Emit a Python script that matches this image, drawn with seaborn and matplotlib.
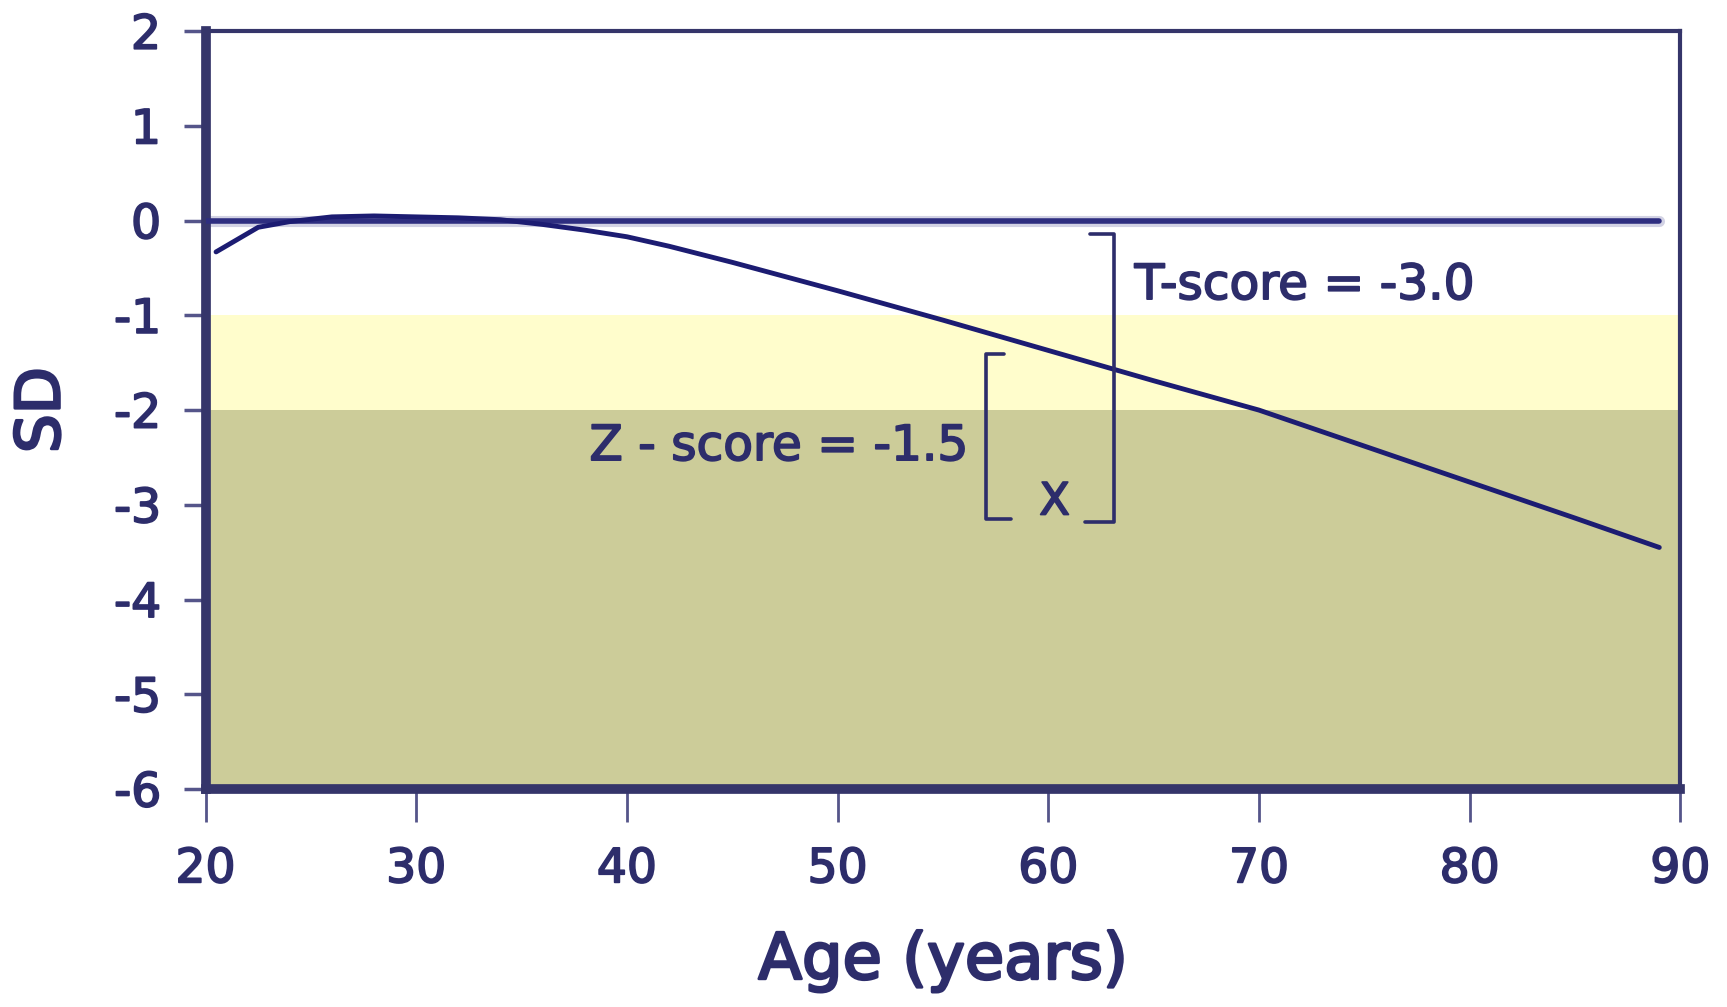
import matplotlib
matplotlib.use("Agg")
import matplotlib.pyplot as plt
import matplotlib.patheffects as pe
import seaborn as sns
import pandas as pd

# bone density curve, SD relative to young adult mean
age = [20.5, 21.5, 22.5, 24, 26, 28, 30, 32, 34, 36, 38, 40, 42, 45, 50, 55, 60, 65, 70, 75, 80, 85, 89]
sd = [-0.33, -0.2, -0.07, -0.01, 0.04, 0.05, 0.04, 0.03, 0.01, -0.04, -0.1, -0.17, -0.27,
      -0.44, -0.74, -1.05, -1.37, -1.69, -2.0, -2.38, -2.76, -3.14, -3.45]

ref_age = [20, 89]
ref_sd = [0, 0]

# bands
osteopenia = (-2, -1)
osteoporosis = (-6, -2)

# bracket annotations
t_x = [62.0, 63.1, 63.1, 61.75]
t_y = [-0.14, -0.14, -3.18, -3.18]
z_x = [57.9, 57.05, 57.05, 58.25]
z_y = [-1.41, -1.41, -3.15, -3.15]

xticks = [20, 30, 40, 50, 60, 70, 80, 90]
yticks = [2, 1, 0, -1, -2, -3, -4, -5, -6]

NAVY = "#2d2d6b"
LINE = "#1c1c72"
heavy = [pe.withStroke(linewidth=1.3, foreground=NAVY)]

sns.set_style("white")
plt.rcParams["font.family"] = ["DejaVu Sans"]
plt.rcParams["axes.unicode_minus"] = False

fig = plt.figure(figsize=(17.27, 10.07), dpi=100)
ax = fig.add_axes([0.119, 0.2165, 0.854, 0.7525])

ax.axhspan(*osteopenia, color="#fffdcc", lw=0, zorder=0)
ax.axhspan(*osteoporosis, color="#cccc99", lw=0, zorder=0)

df = pd.DataFrame({"age": age, "sd": sd})
ref = pd.DataFrame({"age": ref_age, "sd": ref_sd})
sns.lineplot(data=ref, x="age", y="sd", color="#d2d2e4", lw=8, ax=ax, zorder=2)
sns.lineplot(data=ref, x="age", y="sd", color="#2e2e80", lw=4, ax=ax, zorder=3)
sns.lineplot(data=df, x="age", y="sd", color=LINE, lw=3.5, ax=ax, zorder=4)

ax.plot(t_x, t_y, color=NAVY, lw=2.6, zorder=5)
ax.plot(z_x, z_y, color=NAVY, lw=2.6, zorder=5)

ax.text(64.1, -0.68, "T-score = -3.0", color=NAVY, fontsize=35, ha="left", va="center",
        path_effects=heavy)
ax.text(56.2, -2.38, "Z - score = -1.5", color=NAVY, fontsize=35, ha="right", va="center",
        path_effects=heavy)
ax.text(60.3, -2.97, "X", color=NAVY, fontsize=32, ha="center", va="center",
        path_effects=heavy)

ax.set_xlim(20, 90)
ax.set_ylim(-6, 2)
ax.set_xticks(xticks)
ax.set_yticks(yticks)
ax.set_xticklabels([str(t) for t in xticks])
ax.set_yticklabels([str(t) for t in yticks])

for side in ["left", "bottom"]:
    ax.spines[side].set_linewidth(7)
    ax.spines[side].set_color("#35356a")
for side in ["top", "right"]:
    ax.spines[side].set_linewidth(3)
    ax.spines[side].set_color("#35356a")

ax.tick_params(axis="x", direction="out", length=24, width=2, color="#55558a",
               pad=18, labelsize=34, labelcolor=NAVY, bottom=True)
ax.tick_params(axis="y", direction="out", length=16, width=2.5, color="#55558a",
               pad=16, labelsize=34, labelcolor=NAVY, left=True)
for lab in ax.get_xticklabels() + ax.get_yticklabels():
    lab.set_path_effects(heavy)

ax.set_xlabel("Age (years)", fontsize=46, color=NAVY, labelpad=27,
              path_effects=[pe.withStroke(linewidth=2, foreground=NAVY)])
ax.set_ylabel("SD", fontsize=44, color=NAVY, labelpad=30,
              path_effects=[pe.withStroke(linewidth=2, foreground=NAVY)])

fig.savefig("out.png", dpi=100)
